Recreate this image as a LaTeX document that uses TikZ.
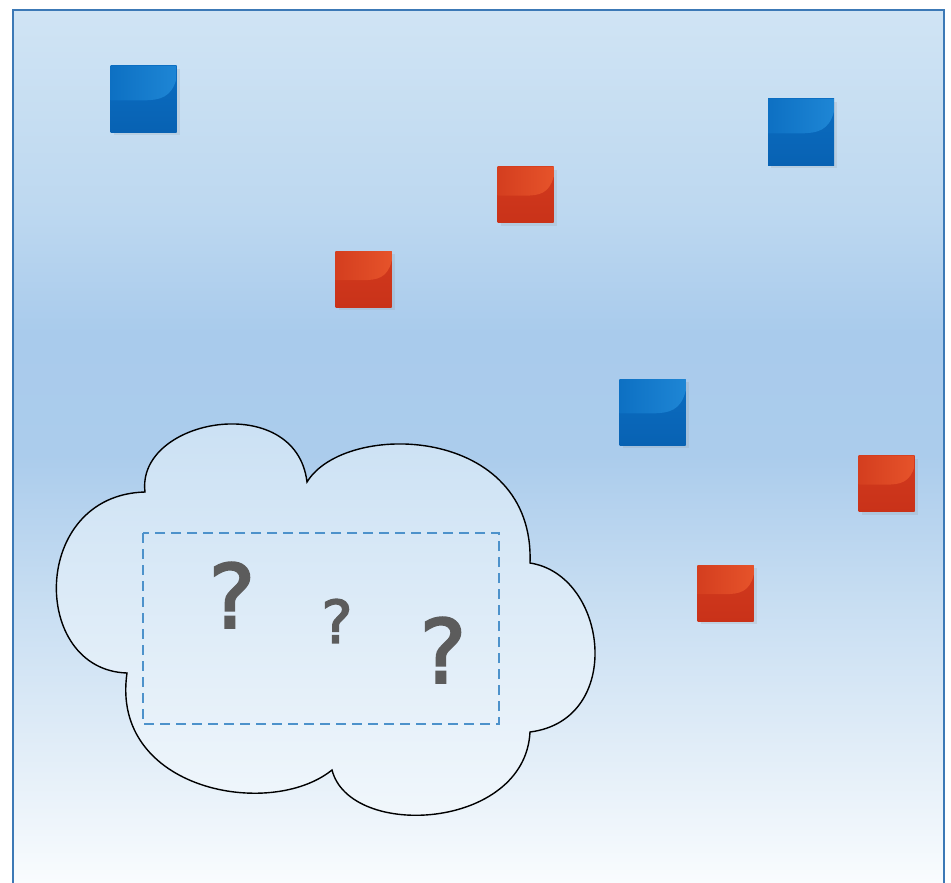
\documentclass[tikz,border=0pt]{standalone}
\usepackage{fontspec}
\newfontfamily\qfont[FakeBold=2.5]{DejaVu Sans}
\usetikzlibrary{shadows}

\definecolor{framecol}{HTML}{3C79B6}
\definecolor{cloudtop}{HTML}{C8DFF3}
\definecolor{cloudbot}{HTML}{F3F8FC}
\definecolor{dashcol}{HTML}{4D92CB}
\definecolor{qcol}{HTML}{5C5C5C}
\definecolor{bluetop}{HTML}{0B6DC1}
\definecolor{bluebot}{HTML}{0862B3}
\definecolor{blueglossA}{HTML}{0D70C3}
\definecolor{blueglossB}{HTML}{1E86D5}
\definecolor{redtop}{HTML}{D23A1E}
\definecolor{redbot}{HTML}{C93219}
\definecolor{redglossA}{HTML}{D43E1F}
\definecolor{redglossB}{HTML}{E6532A}

% backdrop: 25bp is the foot of the frame, 75bp its head
\pgfdeclareverticalshading{bgshade}{100bp}{color(0bp)=(rgb,255:red,249;green,252;blue,254);
  color(25bp)=(rgb,255:red,249;green,252;blue,254);
  color(29.5bp)=(rgb,255:red,235;green,243;blue,250);
  color(41bp)=(rgb,255:red,200;green,222;blue,242);
  color(49.5bp)=(rgb,255:red,171;green,204;blue,236);
  color(56.5bp)=(rgb,255:red,169;green,203;blue,236);
  color(63.5bp)=(rgb,255:red,189;green,216;blue,240);
  color(75bp)=(rgb,255:red,208;green,228;blue,244);
  color(100bp)=(rgb,255:red,208;green,228;blue,244)}

% glossy cap of a tile: colour A, colour B, half side
\newcommand\tilegloss[3]{%
  \shade[left color=#1, right color=#2, shift={(path picture bounding box.center)}]
    (-#3,-#3) -- (#3,-#3) -- (#3,-0.62*#3)
    .. controls (0.85*#3,-0.05*#3) and (0.5*#3,0.04*#3) .. (0,0.04*#3)
    -- (-#3,0.04*#3) -- cycle;}

\tikzstyle{tile}=[inner sep=0pt, outer sep=0pt,
  drop shadow={opacity=0.15, shadow xshift=3pt, shadow yshift=-3pt}]
\tikzstyle{blue tile}=[tile, minimum size=66pt, top color=bluetop, bottom color=bluebot,
  path picture={\tilegloss{blueglossA}{blueglossB}{33}}]
\tikzstyle{red tile}=[tile, minimum size=56pt, top color=redtop, bottom color=redbot,
  path picture={\tilegloss{redglossA}{redglossB}{28}}]
\tikzstyle{query}=[text=qcol, inner sep=0pt, font=\qfont]

\begin{document}
\begin{tikzpicture}[x=1pt, y=-1pt]
    \useasboundingbox (0,0) rectangle (951,883);
    \fill[white] (0,0) rectangle (951,883);

    % backdrop and frame (open at the bottom)
    \shade[shading=bgshade] (13,10) rectangle (944,883);
    \draw[framecol, line width=2pt] (13,890) -- (13,10) -- (944,10) -- (944,890);

    \foreach \pos/\name in {{(143.5,99)/b1}, {(801,132)/b2}, {(652.5,412)/b3}}
        \node[blue tile] (\name) at \pos {};
    \foreach \pos/\name in {{(525.5,194.5)/r1}, {(363.5,279)/r2},
                            {(886.5,483.5)/r3}, {(725.5,593)/r4}}
        \node[red tile] (\name) at \pos {};

    % the cloud
    \draw[line width=1.4pt, top color=cloudtop, bottom color=cloudbot]
        (145,492) .. controls (136,418) and (296,390) .. (307,482)
        .. controls (345,420) and (535,425) .. (530,563)
        .. controls (608,575) and (625,720) .. (530,732)
        .. controls (525,830) and (350,840) .. (332,770)
        .. controls (270,820) and (110,790) .. (127,673)
        .. controls (30,670) and (30,495) .. (145,492) -- cycle;

    \draw[dashcol, line width=1.5pt, dash pattern=on 10pt off 6pt] (143,533) rectangle (499,724);

    \node[query, font=\qfont\fontsize{88}{88}\selectfont] (q1) at (232,595) {?};
    \node[query, font=\qfont\fontsize{59}{59}\selectfont] (q2) at (337,621) {?};
    \node[query, font=\qfont\fontsize{88}{88}\selectfont] (q3) at (443,650) {?};
\end{tikzpicture}
\end{document}
